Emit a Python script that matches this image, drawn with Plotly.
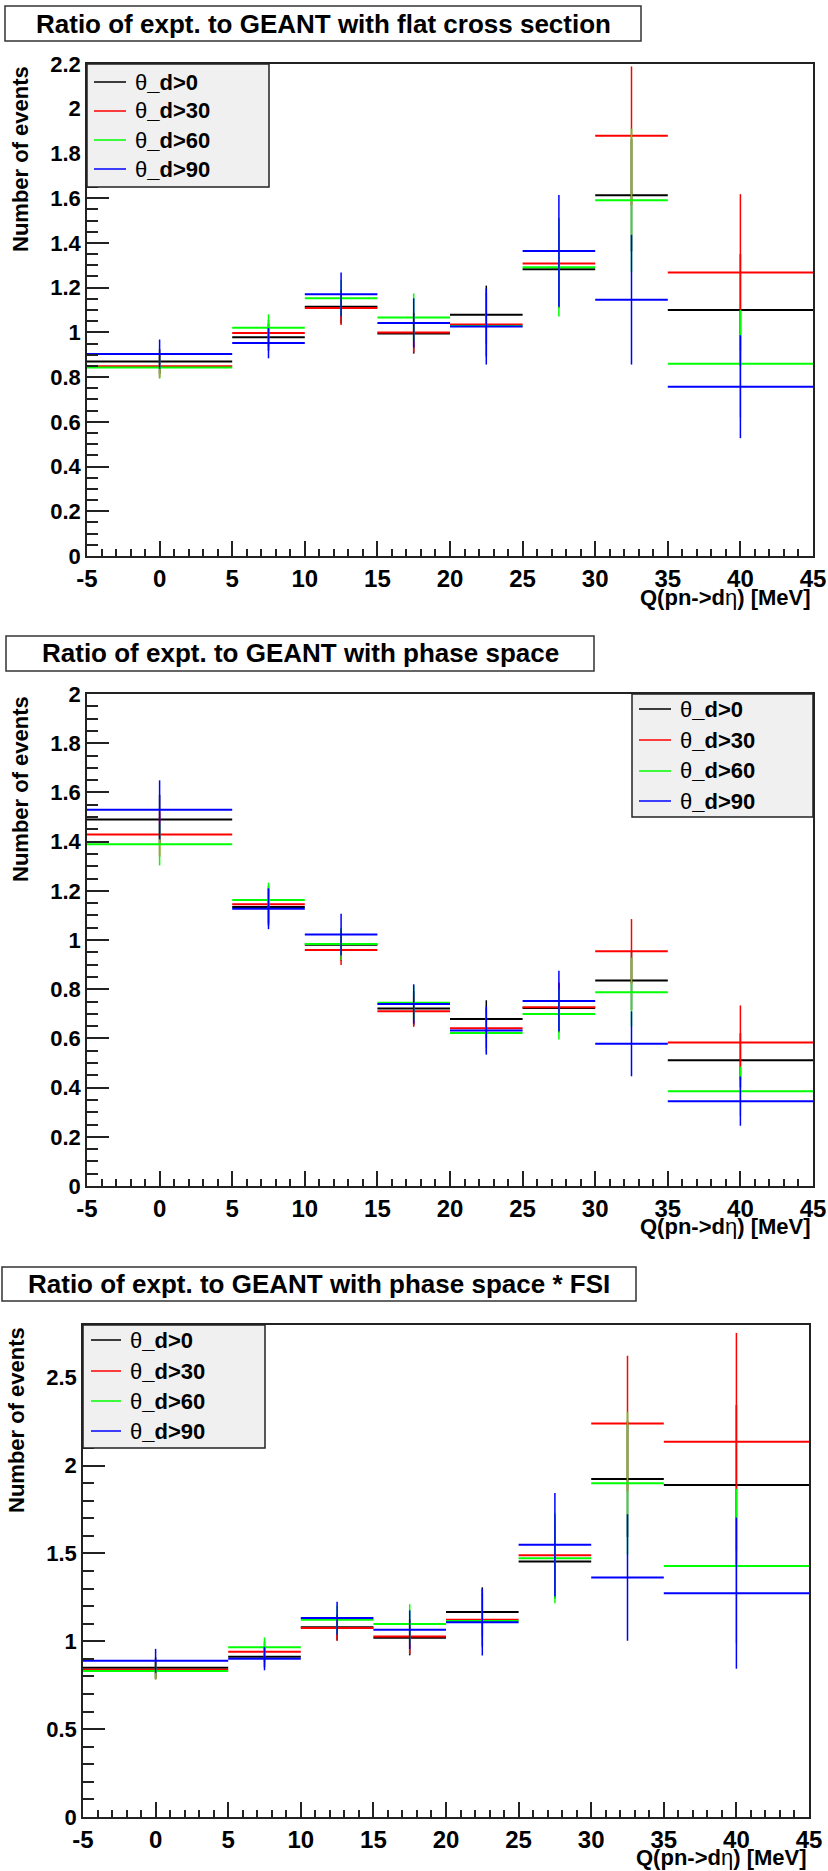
import plotly.graph_objects as go

W, H = 828, 1871

# ---------------- data ----------------
bin_edges = [-5, 5, 10, 15, 20, 25, 30, 35, 45]
series_names = ["θ_d>0", "θ_d>30", "θ_d>60", "θ_d>90"]
series_colors = ["#000000", "#ff0000", "#00ff00", "#0000ff"]

panel_titles = [
    "Ratio of expt. to GEANT with flat cross section",
    "Ratio of expt. to GEANT with phase space",
    "Ratio of expt. to GEANT with phase space * FSI",
]
x_title = "Q(pn->d<span style='font-weight:normal'>η</span>) [MeV]"
y_title = "Number of events"

x_tick_vals = [-5, 0, 5, 10, 15, 20, 25, 30, 35, 40, 45]
x_tick_text = ["-5", "0", "5", "10", "15", "20", "25", "30", "35", "40", "45"]

y1_tick_vals = [0, 0.2, 0.4, 0.6, 0.8, 1.0, 1.2, 1.4, 1.6, 1.8, 2.0, 2.2]
y1_tick_text = ["0", "0.2", "0.4", "0.6", "0.8", "1", "1.2", "1.4", "1.6", "1.8", "2", "2.2"]
y2_tick_vals = [0, 0.2, 0.4, 0.6, 0.8, 1.0, 1.2, 1.4, 1.6, 1.8, 2.0]
y2_tick_text = ["0", "0.2", "0.4", "0.6", "0.8", "1", "1.2", "1.4", "1.6", "1.8", "2"]
y3_tick_vals = [0, 0.5, 1.0, 1.5, 2.0, 2.5]
y3_tick_text = ["0", "0.5", "1", "1.5", "2", "2.5"]

# Panel 1: flat cross section
flat_d0 = [0.870, 0.978, 1.115, 0.995, 1.079, 1.282, 1.613, 1.100]
flat_d30 = [0.848, 0.997, 1.109, 0.999, 1.035, 1.308, 1.879, 1.268]
flat_d60 = [0.843, 1.021, 1.153, 1.067, 1.028, 1.291, 1.591, 0.860]
flat_d90 = [0.903, 0.952, 1.170, 1.042, 1.026, 1.364, 1.146, 0.757]
flat_d0_err = [0.055, 0.060, 0.075, 0.090, 0.130, 0.170, 0.250, 0.250]
flat_d30_err = [0.050, 0.060, 0.076, 0.090, 0.140, 0.200, 0.310, 0.350]
flat_d60_err = [0.050, 0.060, 0.080, 0.107, 0.140, 0.220, 0.320, 0.240]
flat_d90_err = [0.065, 0.068, 0.098, 0.110, 0.170, 0.250, 0.290, 0.230]

# Panel 2: phase space
ps_d0 = [1.490, 1.134, 0.981, 0.722, 0.679, 0.724, 0.835, 0.511]
ps_d30 = [1.429, 1.145, 0.959, 0.710, 0.641, 0.727, 0.954, 0.583]
ps_d60 = [1.389, 1.163, 0.984, 0.745, 0.622, 0.699, 0.788, 0.385]
ps_d90 = [1.529, 1.127, 1.022, 0.740, 0.632, 0.752, 0.578, 0.345]
ps_d0_err = [0.100, 0.075, 0.065, 0.070, 0.076, 0.100, 0.120, 0.110]
ps_d30_err = [0.090, 0.075, 0.061, 0.063, 0.080, 0.100, 0.131, 0.151]
ps_d60_err = [0.086, 0.070, 0.065, 0.070, 0.080, 0.103, 0.140, 0.100]
ps_d90_err = [0.120, 0.083, 0.085, 0.080, 0.098, 0.123, 0.132, 0.100]

# Panel 3: phase space * FSI
fsi_d0 = [0.849, 0.912, 1.080, 1.020, 1.167, 1.454, 1.923, 1.890]
fsi_d30 = [0.838, 0.940, 1.076, 1.027, 1.123, 1.489, 2.240, 2.135]
fsi_d60 = [0.831, 0.966, 1.122, 1.099, 1.115, 1.473, 1.900, 1.428]
fsi_d90 = [0.889, 0.901, 1.132, 1.066, 1.109, 1.550, 1.363, 1.274]
fsi_d0_err = [0.060, 0.060, 0.075, 0.100, 0.140, 0.210, 0.330, 0.455]
fsi_d30_err = [0.055, 0.060, 0.073, 0.100, 0.150, 0.230, 0.385, 0.620]
fsi_d60_err = [0.047, 0.056, 0.080, 0.112, 0.150, 0.257, 0.406, 0.440]
fsi_d90_err = [0.068, 0.066, 0.093, 0.110, 0.190, 0.294, 0.360, 0.430]

panels_vals = [
    [flat_d0, flat_d30, flat_d60, flat_d90],
    [ps_d0, ps_d30, ps_d60, ps_d90],
    [fsi_d0, fsi_d30, fsi_d60, fsi_d90],
]
panels_errs = [
    [flat_d0_err, flat_d30_err, flat_d60_err, flat_d90_err],
    [ps_d0_err, ps_d30_err, ps_d60_err, ps_d90_err],
    [fsi_d0_err, fsi_d30_err, fsi_d60_err, fsi_d90_err],
]
y_ticks = [(y1_tick_vals, y1_tick_text), (y2_tick_vals, y2_tick_text), (y3_tick_vals, y3_tick_text)]

# ---------------- layout geometry (pixels) ----------------
y_ranges = [[0, 2.2], [0, 2.0], [0, 2.8]]
y_minor = [0.05, 0.05, 0.1]
plot_px = [(87, 813, 64, 556), (87, 813, 694, 1186), (83, 809, 1325, 1817)]
title_px = [(5, 641, 6, 41), (6, 594, 636, 671), (2, 636, 1267, 1301)]
legend_px = [
    dict(box=(87, 269, 64, 187), rows=[82, 111, 140, 169], lx=(94, 126), tx=133),
    dict(box=(632, 813, 694, 817), rows=[709, 740, 771, 801], lx=(639, 671), tx=678),
    dict(box=(83, 265, 1325, 1448), rows=[1340, 1371, 1401, 1431], lx=(91, 121), tx=128),
]
xtitle_px = [(813, 597), (813, 1226), (809, 1857)]
ytitle_px = [(20, 64), (20, 694), (16, 1325)]


def px(x):
    return x / W


def py(y):
    return 1 - y / H


centers = [(bin_edges[i] + bin_edges[i + 1]) / 2 for i in range(len(bin_edges) - 1)]
halfw = [(bin_edges[i + 1] - bin_edges[i]) / 2 for i in range(len(bin_edges) - 1)]

FONT = "Liberation Sans"
AXC = "#222222"

fig = go.Figure()
shapes = []
annotations = []
layout = {}

for p in range(3):
    sfx = "" if p == 0 else str(p + 1)
    for s in range(4):
        col = series_colors[s]
        fig.add_trace(go.Scatter(
            x=centers, y=panels_vals[p][s], mode="markers",
            marker=dict(size=1, color=col, opacity=0),
            error_x=dict(type="data", array=halfw, symmetric=True, width=0, thickness=2, color=col),
            error_y=dict(type="data", array=panels_errs[p][s], symmetric=True, width=0, thickness=1.5, color=col),
            xaxis="x" + sfx, yaxis="y" + sfx, showlegend=False, hoverinfo="skip",
            name=series_names[s],
        ))
    x0, x1, y0, y1 = plot_px[p]
    layout["xaxis" + sfx] = dict(
        domain=[px(x0), px(x1)], range=[-5, 45], anchor="y" + sfx,
        tickmode="array", tickvals=x_tick_vals, ticktext=x_tick_text,
        ticks="inside", ticklen=15, tickwidth=1.5, tickcolor=AXC,
        showline=True, linecolor=AXC, linewidth=1.5, mirror=True,
        showgrid=False, zeroline=False, automargin=False,
        tickfont=dict(family=FONT, size=24, color="black", weight="bold"),
        minor=dict(ticks="inside", ticklen=7, tickwidth=1.5, tickcolor=AXC, dtick=1, tick0=-5, showgrid=False),
    )
    tv, tt = y_ticks[p]
    layout["yaxis" + sfx] = dict(
        domain=[py(y1), py(y0)], range=y_ranges[p], anchor="x" + sfx,
        tickmode="array", tickvals=tv, ticktext=tt,
        ticks="inside", ticklen=22, tickwidth=1.5, tickcolor=AXC,
        showline=True, linecolor=AXC, linewidth=1.5, mirror=True,
        showgrid=False, zeroline=False, automargin=False,
        tickfont=dict(family=FONT, size=22, color="black", weight="bold"),
        minor=dict(ticks="inside", ticklen=11, tickwidth=1.5, tickcolor=AXC, dtick=y_minor[p], tick0=0, showgrid=False),
    )

    # title box
    tx0, tx1, ty0, ty1 = title_px[p]
    shapes.append(dict(type="rect", xref="paper", yref="paper",
                       x0=px(tx0), x1=px(tx1), y0=py(ty1), y1=py(ty0),
                       fillcolor="white", line=dict(color="#333333", width=1.5), layer="above"))
    annotations.append(dict(
        text=panel_titles[p], xref="paper", yref="paper",
        x=px((tx0 + tx1) / 2), y=py((ty0 + ty1) / 2),
        xanchor="center", yanchor="middle", showarrow=False,
        font=dict(family=FONT, size=26, color="black", weight="bold"),
    ))
    # axis titles
    xx, xy = xtitle_px[p]
    annotations.append(dict(
        text=x_title, xref="paper", yref="paper", x=px(xx), y=py(xy),
        xanchor="right", yanchor="middle", showarrow=False,
        font=dict(family=FONT, size=22, color="black", weight="bold"),
    ))
    yx, yy = ytitle_px[p]
    annotations.append(dict(
        text=y_title, xref="paper", yref="paper", x=px(yx), y=py(yy),
        xanchor="center", yanchor="top", showarrow=False, textangle=-90,
        font=dict(family=FONT, size=22, color="black", weight="bold"),
    ))

    # legend
    lg = legend_px[p]
    bx0, bx1, by0, by1 = lg["box"]
    shapes.append(dict(type="rect", xref="paper", yref="paper",
                       x0=px(bx0), x1=px(bx1), y0=py(by1), y1=py(by0),
                       fillcolor="#f0f0f0", line=dict(color=AXC, width=1.5), layer="above"))
    for s in range(4):
        ry = lg["rows"][s]
        shapes.append(dict(type="line", xref="paper", yref="paper",
                           x0=px(lg["lx"][0]), x1=px(lg["lx"][1]), y0=py(ry), y1=py(ry),
                           line=dict(color=series_colors[s], width=1.5), layer="above"))
        name = series_names[s].replace("θ", "<span style='font-weight:normal'>θ</span>")
        annotations.append(dict(
            text=name, xref="paper", yref="paper", x=px(lg["tx"]), y=py(ry),
            xanchor="left", yanchor="middle", showarrow=False,
            font=dict(family=FONT, size=22, color="black", weight="bold"),
        ))

fig.update_layout(
    width=W, height=H, margin=dict(l=0, r=0, t=0, b=0, pad=0, autoexpand=False),
    font=dict(family=FONT, size=22, color="black", weight="bold"),
    paper_bgcolor="white", plot_bgcolor="white", showlegend=False,
    shapes=shapes, annotations=annotations, **layout,
)

fig.write_html("out.html")
